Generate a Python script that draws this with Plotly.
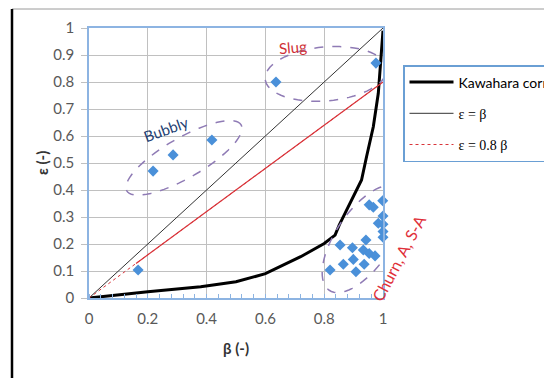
import numpy as np
import plotly.graph_objects as go

# ---------------- data ----------------
beta_pts = [0.218, 0.286, 0.418, 0.167,            # bubbly + low point
            0.636, 0.976,                          # slug
            0.999, 0.953, 0.967, 1.0, 0.984, 1.0, 1.0, 1.0,
            0.942, 0.854, 0.896, 0.933, 0.953, 0.973, 0.899,
            0.865, 0.936, 0.908, 0.820]
eps_pts = [0.47, 0.53, 0.585, 0.104,
           0.80, 0.87,
           0.36, 0.345, 0.336, 0.304, 0.277, 0.273, 0.246, 0.225,
           0.215, 0.196, 0.186, 0.178, 0.165, 0.156, 0.143,
           0.125, 0.125, 0.097, 0.104]

kaw_beta = [0, 0.1, 0.2, 0.38, 0.5, 0.6, 0.72, 0.8, 0.837, 0.851, 0.888,
            0.927, 0.944, 0.967, 0.984, 0.995, 1.0]
kaw_eps = [0, 0.012, 0.023, 0.042, 0.06, 0.09, 0.153, 0.202, 0.233, 0.27, 0.35,
           0.437, 0.523, 0.634, 0.758, 0.906, 0.99]

line_beta = [0, 1]
line_eps_eq = [0, 1]
line_eps_08 = [0, 0.8]
solid08_beta = [0.16, 1]
solid08_eps = [0.128, 0.8]

x_ticks = [0, 0.2, 0.4, 0.6, 0.8, 1]
y_ticks = [0, 0.1, 0.2, 0.3, 0.4, 0.5, 0.6, 0.7, 0.8, 0.9, 1]

# regime ellipses: centre (beta, eps), semi-axes in px, angle in deg
regions = [
    ("Bubbly", 0.323, 0.519, 66, 20, 30),
    ("Slug", 0.806, 0.830, 61, 27, 5),
    ("Churn", 0.935, 0.219, 62, 28, 56),
]

# ---------------- layout geometry ----------------
W, H = 544, 378
L, R, T, B = 89, 161, 28, 80
PW, PH = W - L - R, H - T - B

SERIF = "font-family:Liberation Serif"

fig = go.Figure()

fig.add_trace(go.Scatter(x=kaw_beta, y=kaw_eps, mode="lines",
                         line=dict(color="black", width=3),
                         name="Kawahara correlation", legendgroup="a"))
fig.add_trace(go.Scatter(x=line_beta, y=line_eps_eq, mode="lines",
                         line=dict(color="#333333", width=1),
                         name=f'<span style="{SERIF}">ε = β</span>',
                         legendgroup="b"))
fig.add_trace(go.Scatter(x=line_beta, y=line_eps_08, mode="lines",
                         line=dict(color="#d9343a", width=1, dash="dot"),
                         name=f'<span style="{SERIF}">ε = 0.8 β</span>',
                         legendgroup="c"))
fig.add_trace(go.Scatter(x=solid08_beta, y=solid08_eps, mode="lines",
                         line=dict(color="#d9343a", width=1.2),
                         showlegend=False, hoverinfo="skip"))
fig.add_trace(go.Scatter(x=beta_pts, y=eps_pts, mode="markers",
                         marker=dict(symbol="diamond", size=8.5, color="#4a90d9"),
                         showlegend=False, cliponaxis=False))

# ellipses
shapes = []
t = np.linspace(0, 2 * np.pi, 73)
for name, cb, ce, a, b, ang in regions:
    th = np.deg2rad(ang)
    dx = a * np.cos(t) * np.cos(th) - b * np.sin(t) * np.sin(th)
    dy = a * np.cos(t) * np.sin(th) + b * np.sin(t) * np.cos(th)
    xs = cb + dx / PW
    ys = ce + dy / PH
    path = "M " + " L ".join(f"{x:.4f},{y:.4f}" for x, y in zip(xs, ys)) + " Z"
    shapes.append(dict(type="path", path=path, xref="x", yref="y",
                       line=dict(color="#8f7bb5", width=1.5, dash="dash")))

# outer frame lines
shapes.append(dict(type="line", xref="paper", yref="paper",
                   x0=(12 - L) / PW, x1=(W - L) / PW,
                   y0=(H - B - 9) / PH, y1=(H - B - 9) / PH,
                   line=dict(color="#9a9a9a", width=1)))
shapes.append(dict(type="line", xref="paper", yref="paper",
                   x0=(12 - L) / PW, x1=(12 - L) / PW,
                   y0=(H - B - 9) / PH, y1=-B / PH,
                   line=dict(color="black", width=2.5)))

annotations = [
    dict(x=0.262, y=0.625, xref="x", yref="y", text="Bubbly", showarrow=False,
         textangle=-20, xanchor="center", yanchor="middle",
         font=dict(family="Lato", size=15, color="#243f73")),
    dict(x=0.694, y=0.93, xref="x", yref="y", text="Slug", showarrow=False,
         textangle=-5, xanchor="center", yanchor="middle",
         font=dict(family="Lato", size=15, color="#cf3036")),
    dict(x=(398 - L) / PW, y=(H - B - 258) / PH, xref="paper", yref="paper",
         text="Churn, A, S-A", showarrow=False, xanchor="center", yanchor="middle",
         textangle=-62, font=dict(family="Lato", size=16, color="#e0303a")),
    dict(x=(42 - L) / PW, y=0.5, xref="paper", yref="paper",
         text="<b>ε (-)</b>", showarrow=False, textangle=-90,
         xanchor="center", yanchor="middle",
         font=dict(family="Lato", size=15, color="#333333")),
]

fig.update_layout(
    width=W, height=H,
    margin=dict(l=L, r=R, t=T, b=B, autoexpand=False),
    paper_bgcolor="white", plot_bgcolor="white",
    font=dict(family="Lato", size=15, color="#595959"),
    shapes=shapes, annotations=annotations,
    showlegend=True,
    legend=dict(x=(403 - L) / PW, y=(H - B - 65) / PH, xanchor="left", yanchor="top",
                bordercolor="#6a9fd4", borderwidth=1.5, bgcolor="white",
                font=dict(family="Lato", size=14, color="black"),
                tracegroupgap=10, itemwidth=44),
    xaxis=dict(range=[0, 1], tickvals=x_ticks, ticktext=[f"{v:g}" for v in x_ticks],
               showgrid=True, gridcolor="#c0c0c0", gridwidth=1,
               showline=True, linecolor="#8db4e2", linewidth=1.5, mirror=True,
               zeroline=False, ticks="", ticklabelstandoff=6,
               minor=dict(ticks="inside", ticklen=4, dtick=0.04, tickcolor="#8db4e2",
                          showgrid=False),
               title=dict(text="<b>β (-)</b>", standoff=18,
                          font=dict(family="Lato", size=15, color="#333333"))),
    yaxis=dict(range=[0, 1], tickvals=y_ticks, ticktext=[f"{v:g}" for v in y_ticks],
               showgrid=True, gridcolor="#c0c0c0", gridwidth=1,
               showline=True, linecolor="#8db4e2", linewidth=1.5, mirror=True,
               zeroline=False, ticks="outside", ticklen=6, tickcolor="#c0c0c0",
               ticklabelstandoff=4),
)

fig.write_html("out.html")
